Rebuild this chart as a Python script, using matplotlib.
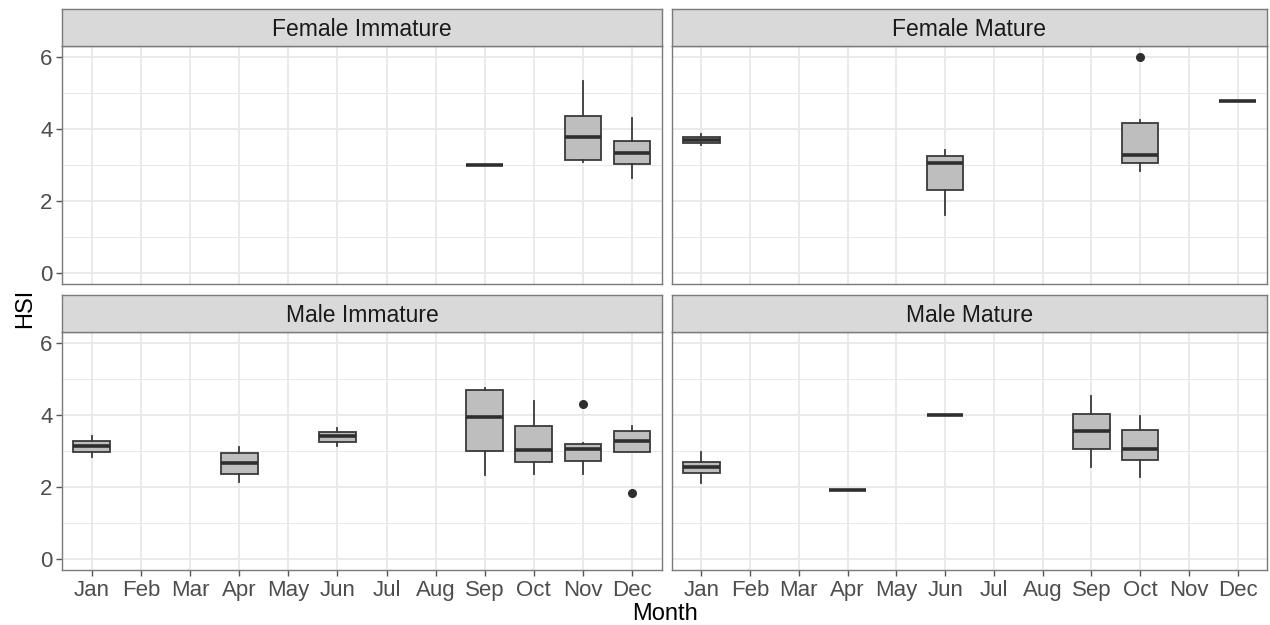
import matplotlib
matplotlib.use("Agg")
import matplotlib.pyplot as plt

plt.rcParams['font.family'] = ['Liberation Sans', 'DejaVu Sans']

months = ["Jan", "Feb", "Mar", "Apr", "May", "Jun",
          "Jul", "Aug", "Sep", "Oct", "Nov", "Dec"]

# Female Immature
fi_months = ["Sep", "Nov", "Dec"]
fi_low = [3.00, 3.10, 2.64]
fi_q1 = [3.00, 3.15, 3.02]
fi_med = [3.00, 3.78, 3.35]
fi_q3 = [3.00, 4.36, 3.67]
fi_high = [3.00, 5.33, 4.31]
fi_out = [[], [], []]

# Female Mature
fm_months = ["Jan", "Jun", "Oct", "Dec"]
fm_low = [3.55, 1.63, 2.85, 4.77]
fm_q1 = [3.62, 2.32, 3.07, 4.77]
fm_med = [3.70, 3.06, 3.27, 4.77]
fm_q3 = [3.79, 3.24, 4.17, 4.77]
fm_high = [3.86, 3.41, 4.25, 4.77]
fm_out = [[], [], [5.99], []]

# Male Immature
mi_months = ["Jan", "Apr", "Jun", "Sep", "Oct", "Nov", "Dec"]
mi_low = [2.82, 2.14, 3.13, 2.34, 2.37, 2.35, 2.97]
mi_q1 = [2.96, 2.35, 3.25, 2.99, 2.68, 2.72, 2.97]
mi_med = [3.13, 2.66, 3.41, 3.95, 3.02, 3.06, 3.26]
mi_q3 = [3.28, 2.94, 3.52, 4.69, 3.70, 3.19, 3.56]
mi_high = [3.40, 3.11, 3.63, 4.73, 4.38, 3.21, 3.69]
mi_out = [[], [], [], [], [], [4.29], [1.84]]

# Male Mature
mm_months = ["Jan", "Apr", "Jun", "Sep", "Oct"]
mm_low = [2.11, 1.92, 3.98, 2.55, 2.27]
mm_q1 = [2.38, 1.92, 3.98, 3.04, 2.74]
mm_med = [2.54, 1.92, 3.98, 3.54, 3.04]
mm_q3 = [2.68, 1.92, 3.98, 4.03, 3.59]
mm_high = [2.97, 1.92, 3.98, 4.51, 3.97]
mm_out = [[], [], [], [], []]

panels = [
    ("Female Immature", fi_months, fi_low, fi_q1, fi_med, fi_q3, fi_high, fi_out),
    ("Female Mature", fm_months, fm_low, fm_q1, fm_med, fm_q3, fm_high, fm_out),
    ("Male Immature", mi_months, mi_low, mi_q1, mi_med, mi_q3, mi_high, mi_out),
    ("Male Mature", mm_months, mm_low, mm_q1, mm_med, mm_q3, mm_high, mm_out),
]

W, H = 1270, 625
fig = plt.figure(figsize=(W / 100, H / 100), dpi=100)

col_x = [(62.4, 661.5), (672.0, 1267.0)]
row_y = [(46.0, 284.3, 9.3), (331.7, 570.0, 294.7)]  # plot top, plot bottom, strip top

border = "#7a7a7a"
grid_c = "#e8e8e8"
box_edge = "#3a3a3a"
box_fill = "#bebebe"
tick_c = "#4d4d4d"

for i, (title, pm, lo, q1, med, q3, hi, out) in enumerate(panels):
    r, c = divmod(i, 2)
    x0, x1 = col_x[c]
    yt, yb, ys = row_y[r]
    ax = fig.add_axes([x0 / W, 1 - yb / H, (x1 - x0) / W, (yb - yt) / H])
    sax = fig.add_axes([x0 / W, 1 - yt / H, (x1 - x0) / W, (yt - ys) / H])

    stats = []
    pos = []
    for j, m in enumerate(pm):
        stats.append(dict(whislo=lo[j], q1=q1[j], med=med[j], q3=q3[j],
                          whishi=hi[j], fliers=out[j]))
        pos.append(months.index(m) + 1)

    ax.bxp(stats, positions=pos, widths=0.75, patch_artist=True,
           showcaps=False, manage_ticks=False,
           boxprops=dict(facecolor=box_fill, edgecolor=box_edge, linewidth=1.3),
           whiskerprops=dict(color=box_edge, linewidth=1.3),
           medianprops=dict(color="#2e2e2e", linewidth=2.6, solid_capstyle="butt"),
           flierprops=dict(marker="o", markerfacecolor="#2e2e2e",
                           markeredgecolor="#2e2e2e", markersize=5.5))

    ax.set_xlim(0.4, 12.6)
    ax.set_ylim(-0.3, 6.3)
    ax.set_xticks(range(1, 13))
    ax.set_yticks([0, 2, 4, 6])
    ax.set_yticks([1, 3, 5], minor=True)
    ax.grid(True, which="major", color=grid_c, linewidth=1.3, zorder=0)
    ax.grid(True, which="minor", axis="y", color=grid_c, linewidth=0.7, zorder=0)
    ax.set_axisbelow(True)
    ax.tick_params(which="minor", length=0)
    ax.tick_params(which="major", length=4, width=1.0, color="#555555",
                   labelcolor=tick_c, labelsize=16, pad=3)
    if r == 1:
        ax.set_xticklabels(months)
    else:
        ax.set_xticklabels([])
        ax.tick_params(axis="x", length=0)
    if c == 0:
        ax.set_yticklabels(["0", "2", "4", "6"])
    else:
        ax.set_yticklabels([])
        ax.tick_params(axis="y", length=0)
    for s in ax.spines.values():
        s.set_color(border)
        s.set_linewidth(1.0)

    sax.set_xticks([])
    sax.set_yticks([])
    sax.set_facecolor("#d9d9d9")
    for s in sax.spines.values():
        s.set_color(border)
        s.set_linewidth(1.0)
    sax.text(0.5, 0.44, title, ha="center", va="center", fontsize=16.5,
             color="#1a1a1a", transform=sax.transAxes)

fig.text(25 / W, 1 - 308 / H, "HSI", rotation=90, ha="center", va="center",
         fontsize=17, color="black")
fig.text(664.7 / W, 1 - 614 / H, "Month", ha="center", va="center",
         fontsize=17, color="black")

fig.savefig("out.png", dpi=100, facecolor="white")
